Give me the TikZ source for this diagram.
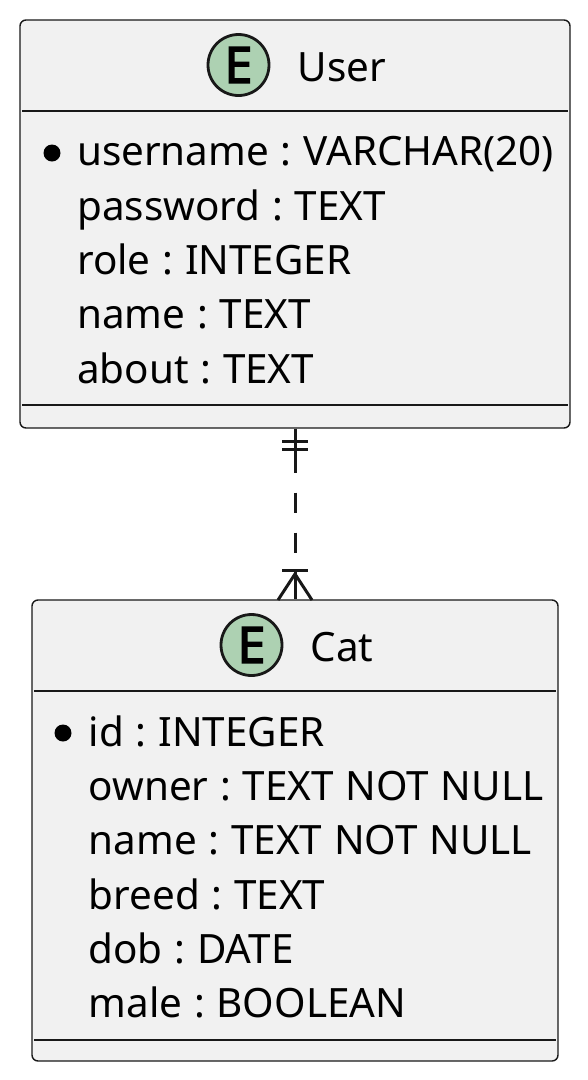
\documentclass[tikz,border=0pt]{standalone}
\usepackage{fontspec}
\setmainfont[WordSpace=1.12]{Noto Sans}
\newfontfamily\spotfont[FakeBold=3]{Noto Sans}
\usetikzlibrary{arrows}
\definecolor{boxfill}{HTML}{F1F1F1}
\definecolor{inkline}{HTML}{181818}
\definecolor{spotfill}{HTML}{ADD1B2}
\tikzset{
	entity/.style={draw=inkline,fill=boxfill,line width=1.4pt,rounded corners=6pt,inner sep=0pt},
	spot/.style={circle,draw=inkline,fill=spotfill,line width=2.8pt,minimum size=61pt,inner sep=0pt,font=\fontsize{50}{50}\selectfont\spotfont},
	field/.style={anchor=base west,inner sep=0pt,font=\fontsize{40.4}{48}\selectfont\frenchspacing},
	keydot/.style={circle,fill=black,minimum size=17pt,inner sep=0pt},
	sep/.style={draw=inkline,line width=1.4pt},
	rel/.style={draw=inkline,line width=3pt}
}
\begin{document}
\begin{tikzpicture}[x=1pt,y=-1pt]
	\useasboundingbox (0,0) rectangle (587,1080);
	\node[entity,minimum width=550pt,minimum height=408pt] (user) at (295,224) {};
	\node[entity,minimum width=526pt,minimum height=461pt] (cat) at (295,830.5) {};

	\node[spot] (e1) at (238.5,65) {E};
	\node[field] (t1) at (297.5,81) {User};
	\coordinate (u1) at (22,111);
	\coordinate (u2) at (568,111);
	\coordinate (u3) at (22,405);
	\coordinate (u4) at (568,405);
	\draw[sep] (u1) -- (u2);
	\draw[sep] (u3) -- (u4);
	\node[keydot] (d1) at (52,153) {};
	\node[field] (f1) at (77,165.5) {username : VARCHAR(20)};
	\node[field] (f2) at (77,220) {password : TEXT};
	\node[field] (f3) at (77,274.5) {role : INTEGER};
	\node[field] (f4) at (77,328.5) {name : TEXT};
	\node[field] (f5) at (77,383) {about : TEXT};

	\node[spot] (e2) at (251.5,645) {E};
	\node[field] (t2) at (310.5,661) {Cat};
	\coordinate (c1) at (34,691);
	\coordinate (c2) at (556,691);
	\coordinate (c3) at (34,1040);
	\coordinate (c4) at (556,1040);
	\draw[sep] (c1) -- (c2);
	\draw[sep] (c3) -- (c4);
	\node[keydot] (d2) at (63,733) {};
	\node[field] (g1) at (88.5,746) {id : INTEGER};
	\node[field] (g2) at (88.5,800) {owner : TEXT NOT NULL};
	\node[field] (g3) at (88.5,854) {name : TEXT NOT NULL};
	\node[field] (g4) at (88.5,909) {breed : TEXT};
	\node[field] (g5) at (88.5,963) {dob : DATE};
	\node[field] (g6) at (88.5,1017) {male : BOOLEAN};

	% relation, with its two ends
	\coordinate (r1) at (295,455);
	\coordinate (b1) at (282,441.5);
	\coordinate (b2) at (308,441.5);
	\coordinate (b3) at (282,449.5);
	\coordinate (b4) at (308,449.5);
	\coordinate (r2) at (295,570);
	\coordinate (b5) at (282,570);
	\coordinate (b6) at (308,570);
	\coordinate (r3) at (278,600);
	\coordinate (r4) at (312,600);
	\draw[rel,dash pattern=on 20pt off 20pt,dash phase=16pt] (user.south) -- (cat.north);
	\draw[rel] (user.south) -- (r1);
	\draw[rel] (b1) -- (b2);
	\draw[rel] (b3) -- (b4);
	\draw[rel] (b5) -- (b6);
	\draw[rel] (r2) -- (cat.north);
	\draw[rel] (r3) -- (295,574) -- (r4);
\end{tikzpicture}
\end{document}
